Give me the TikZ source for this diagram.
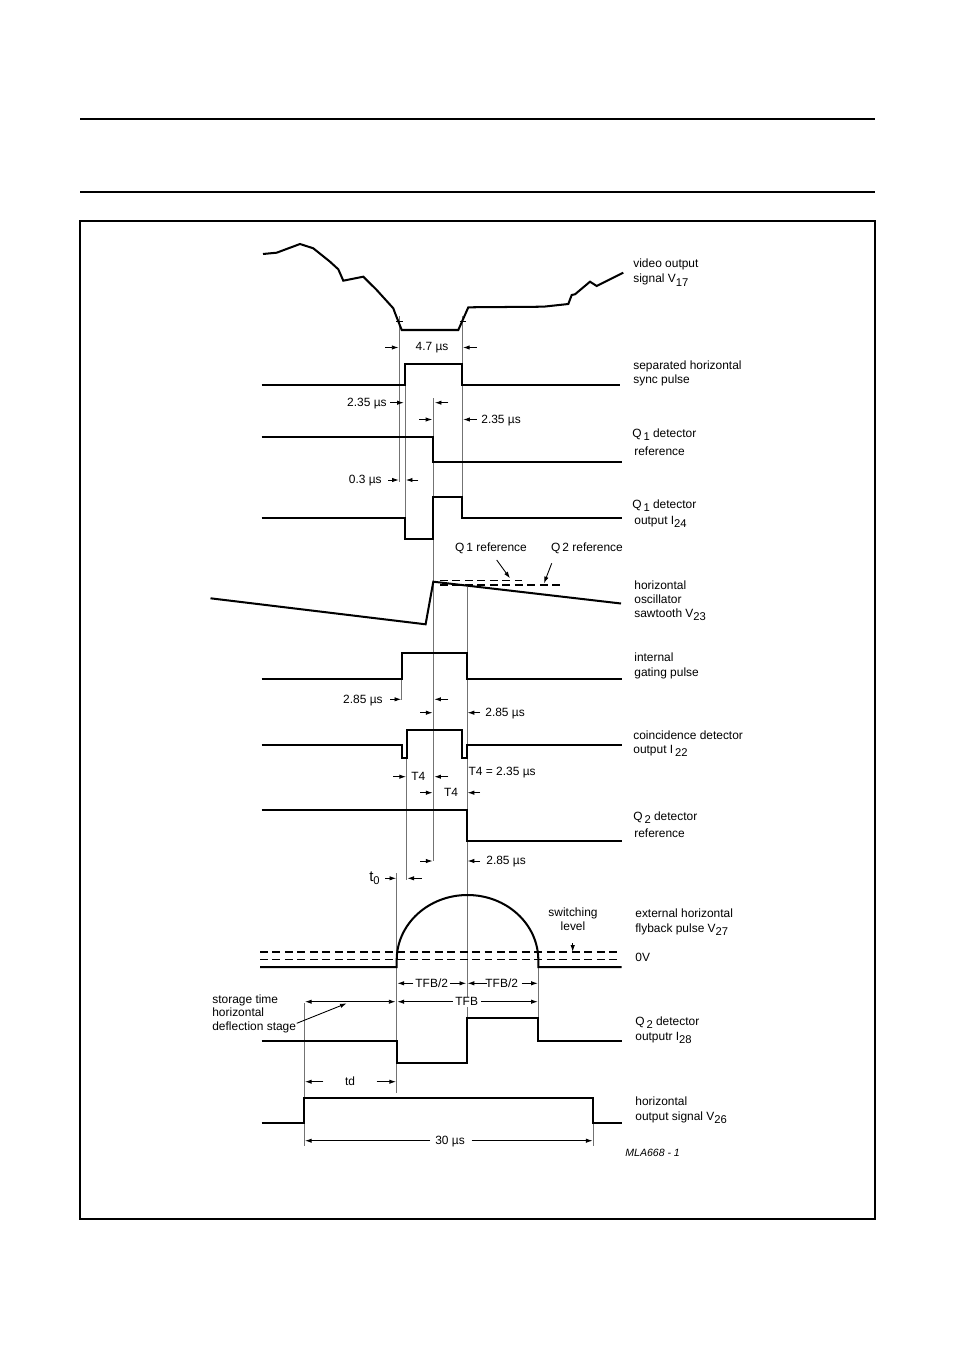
\documentclass[tikz,border=0pt]{standalone}
\usepackage{fontspec}
\setmainfont{Liberation Sans}
\usetikzlibrary{arrows.meta}
\newcommand{\lblfont}{\fontsize{6.8}{8}\selectfont}
\newcommand{\lowidx}[1]{\raisebox{-0.5ex}{\fontsize{6.4}{7}\selectfont #1}}

\begin{document}
\begin{tikzpicture}[x=0.02cm, y=-0.02cm,
    sig/.style={line width=1.15pt, line join=miter},
    guide/.style={black!55, line width=0.45pt},
    lvl/.style={line width=0.7pt, dash pattern=on 4.5pt off 2.6pt},
    dimarr/.style={-{Latex[length=3.8pt,width=2.5pt]}, line width=0.5pt},
    lbl/.style={anchor=base west, inner sep=0pt, font=\lblfont},
    clbl/.style={anchor=base, inner sep=0pt, font=\lblfont},
    rlbl/.style={anchor=base east, inner sep=0pt, font=\lblfont}
]
\useasboundingbox (0,0) rectangle (954,1351);

% Page rules and frame
\draw[line width=1.1pt] (80,119) -- (875,119);
\draw[line width=1.1pt] (80,192) -- (875,192);
\draw[line width=0.6pt] (80,221) rectangle (875,1219);

% Guide lines
\draw[guide] (399.3,316) -- (399.3,482);
\draw[guide] (405,385.3) -- (405,518.3);
\draw[guide] (462,316) -- (462,496.7);
\draw[guide] (433.3,398) -- (433.3,861);
\draw[guide] (466.9,587) -- (466.9,1018);
\draw[guide] (401.7,679.3) -- (401.7,700);
\draw[guide] (406.7,758.3) -- (406.7,880);
\draw[guide] (396.7,873) -- (396.7,1093);
\draw[guide] (538.3,967) -- (538.3,1018);
\draw[guide] (304.3,1003) -- (304.3,1146);
\draw[guide] (593.3,1123.3) -- (593.3,1146);

% Video output signal
\draw[sig] (263,254) -- (276.7,252.7) -- (300,244) -- (313.3,248.3) -- (330,261.7)
  -- (338.3,269.3) -- (343.3,280.7) -- (363.3,276.7) -- (376.7,290) -- (393.3,308.3)
  -- (395,313) -- (401.7,330) -- (458.3,330) -- (468.3,307.3) -- (543.3,306.7)
  -- (568.3,304) -- (571.7,295) -- (575,294.3) -- (590,281.7) -- (596.7,286) -- (623.3,272.7);
\draw[line width=0.5pt] (396,321.7) -- (402.5,321.7);
\draw[line width=0.5pt] (459.5,321.7) -- (466,321.7);

% Sync pulse
\draw[sig] (261.7,385.3) -- (405.3,385.3) -- (405.3,364) -- (461.7,364) -- (461.7,385.3) -- (620,385.3);

% Q1 detector reference
\draw[sig] (261.7,436.7) -- (433.3,436.7) -- (433.3,462) -- (621.7,462);

% Q1 detector output
\draw[sig] (261.7,518.3) -- (405,518.3) -- (405,539) -- (433.3,539) -- (433.3,496.7)
  -- (461.7,496.7) -- (461.7,518.3) -- (621.7,518.3);

% Sawtooth
\draw[sig] (210.5,598.3) -- (425.6,624.3) -- (433.3,581.7) -- (621,603.5);
\draw[lvl] (440,580.5) -- (522,580.5);
\draw[lvl] (440,585) -- (562,585);

% Gating pulse
\draw[sig] (261.7,679.3) -- (401.7,679.3) -- (401.7,652.7) -- (466.7,652.7) -- (466.7,679.3) -- (621.7,679.3);

% Coincidence detector output
\draw[sig] (261.7,745.3) -- (401.7,745.3) -- (401.7,758.3) -- (406.7,758.3) -- (406.7,730)
  -- (461.7,730) -- (461.7,758.3) -- (467.3,758.3) -- (467.3,745.3) -- (621.7,745.3);

% Q2 detector reference
\draw[sig] (261.7,810) -- (467.3,810) -- (467.3,840.7) -- (621.7,840.7);

% Flyback pulse
\draw[lvl] (260,952) -- (621.7,952);
\draw[lvl] (260,959.5) -- (621.7,959.5);
\draw[sig] (260,967) -- (396.7,967) -- (396.7,960)
  .. controls (396.7,924.1) and (428.4,895) .. (467.5,895)
  .. controls (506.6,895) and (538.3,924.1) .. (538.3,960)
  -- (538.3,967) -- (621.7,967);

% Q2 detector output
\draw[sig] (261.7,1041.3) -- (396.7,1041.3) -- (396.7,1063) -- (467.3,1063) -- (467.3,1018)
  -- (538.3,1018) -- (538.3,1040.7) -- (621.7,1040.7);

% Horizontal output signal
\draw[sig] (261.7,1123.3) -- (304.3,1123.3) -- (304.3,1098.3) -- (593.3,1098.3) -- (593.3,1123.3) -- (621.7,1123.3);

% Dimension arrows
\draw[dimarr] (385,347.5) -- (398.5,347.5);
\draw[dimarr] (476.7,347.5) -- (463,347.5);
\draw[dimarr] (390,402.7) -- (403.8,402.7);
\draw[dimarr] (448.3,402.7) -- (434.8,402.7);
\draw[dimarr] (419.3,419.5) -- (432.3,419.5);
\draw[dimarr] (476.7,419.5) -- (463.2,419.5);
\draw[dimarr] (388.3,480) -- (398.8,480);
\draw[dimarr] (418.3,480) -- (405.8,480);
\draw[dimarr] (390,699.3) -- (401.2,699.3);
\draw[dimarr] (448.3,699.3) -- (434.3,699.3);
\draw[dimarr] (420,712.7) -- (432.6,712.7);
\draw[dimarr] (480,712.7) -- (467.6,712.7);
\draw[dimarr] (393.3,776.7) -- (406,776.7);
\draw[dimarr] (448.3,776.7) -- (434.3,776.7);
\draw[dimarr] (420,792.7) -- (432.6,792.7);
\draw[dimarr] (480,792.7) -- (467.6,792.7);
\draw[dimarr] (420,861) -- (432.6,861);
\draw[dimarr] (480,861) -- (467.6,861);
\draw[dimarr] (385,878.3) -- (396.2,878.3);
\draw[dimarr] (421.7,878.3) -- (407.4,878.3);
\draw[dimarr] (413.3,983.3) -- (397.4,983.3);
\draw[dimarr] (450,983.3) -- (466.2,983.3);
\draw[dimarr] (486.7,983.3) -- (467.6,983.3);
\draw[dimarr] (521.7,983.3) -- (537.8,983.3);
\draw[dimarr] (453.3,1001.7) -- (397.4,1001.7);
\draw[dimarr] (480,1001.7) -- (537.8,1001.7);
\draw[dimarr, {Latex[length=3.8pt,width=2.5pt]}-{Latex[length=3.8pt,width=2.5pt]}] (305,1001.7) -- (395.5,1001.7);
\draw[dimarr] (296.7,1023.3) -- (346.7,1003.3);
\draw[dimarr] (323.3,1081.7) -- (305,1081.7);
\draw[dimarr] (376.7,1081.7) -- (396,1081.7);
\draw[dimarr] (430,1140.7) -- (305,1140.7);
\draw[dimarr] (471.7,1140.7) -- (592.6,1140.7);
\draw[dimarr] (496.7,560) -- (510,578.3);
\draw[dimarr] (551.7,563.3) -- (544,583.3);
\draw[dimarr] (572.7,943.3) -- (572.7,951.8);

% Dimension labels
\node[clbl] (d47) at (432,350.5) {4.7 µs};
\node[rlbl] (d235a) at (387,406.5) {2.35 µs};
\node[lbl] (d235b) at (481,423.3) {2.35 µs};
\node[rlbl] (d03) at (382,483.5) {0.3 µs};
\node[rlbl] (d285a) at (383,703) {2.85 µs};
\node[lbl] (d285b) at (485,716.5) {2.85 µs};
\node[clbl] (t4a) at (418.3,780.7) {T4};
\node[lbl] (t4eq) at (468.3,775.7) {T4 = 2.35 µs};
\node[clbl] (t4b) at (451,796.7) {T4};
\node[lbl] (d285c) at (486,864.8) {2.85 µs};
\node[anchor=base east, inner sep=0pt, font=\fontsize{8.5}{9}\selectfont] (tzero) at (380,881) {t\lowidx{0}};
\node[clbl] (q1ref) at (491,551) {Q\,1 reference};
\node[clbl] (q2ref) at (587,551) {Q\,2 reference};
\node[clbl] (sw1) at (573,916) {switching};
\node[clbl] (sw2) at (573,930) {level};
\node[clbl] (tfbh1) at (431.7,987.3) {TFB/2};
\node[clbl] (tfbh2) at (501.7,987.3) {TFB/2};
\node[clbl, fill=white, inner xsep=1.5pt, inner ysep=0.5pt] (tfb) at (466.7,1005.7) {TFB};
\node[lbl] (stor1) at (212,1003) {storage time};
\node[lbl] (stor2) at (212,1016) {horizontal};
\node[lbl] (stor3) at (212,1030) {deflection stage};
\node[clbl] (td) at (350,1085) {td};
\node[clbl] (d30) at (450,1144.5) {30 µs};

% Signal labels
\node[lbl] (vid1) at (633,268) {video output};
\node[lbl] (vid2) at (633,283) {signal V\lowidx{17}};
\node[lbl] (syn1) at (633,369) {separated horizontal};
\node[lbl] (syn2) at (633,383) {sync pulse};
\node[lbl] (qra1) at (632,437) {Q\lowidx{\,1} detector};
\node[lbl] (qra2) at (634,455) {reference};
\node[lbl] (qoa1) at (632,508) {Q\lowidx{\,1} detector};
\node[lbl] (qoa2) at (634,524) {output I\lowidx{24}};
\node[lbl] (saw1) at (634,589) {horizontal};
\node[lbl] (saw2) at (634,603) {oscillator};
\node[lbl] (saw3) at (634,617) {sawtooth V\lowidx{23}};
\node[lbl] (gat1) at (634,661) {internal};
\node[lbl] (gat2) at (634,676) {gating pulse};
\node[lbl] (coi1) at (633,739) {coincidence detector};
\node[lbl] (coi2) at (633,753) {output I\lowidx{\,22}};
\node[lbl] (qrb1) at (633,820) {Q\lowidx{\,2} detector};
\node[lbl] (qrb2) at (634,837) {reference};
\node[lbl] (fly1) at (635,917) {external horizontal};
\node[lbl] (fly2) at (635,932) {flyback pulse V\lowidx{27}};
\node[lbl] (zerov) at (635,961) {0V};
\node[lbl] (qob1) at (635,1025) {Q\lowidx{\,2} detector};
\node[lbl] (qob2) at (635,1040) {outputr I\lowidx{28}};
\node[lbl] (hor1) at (635,1105) {horizontal};
\node[lbl] (hor2) at (635,1120) {output signal V\lowidx{26}};
\node[lbl, font=\fontsize{6}{7}\selectfont\itshape] (mla) at (625,1156) {MLA668 - 1};

\end{tikzpicture}
\end{document}
